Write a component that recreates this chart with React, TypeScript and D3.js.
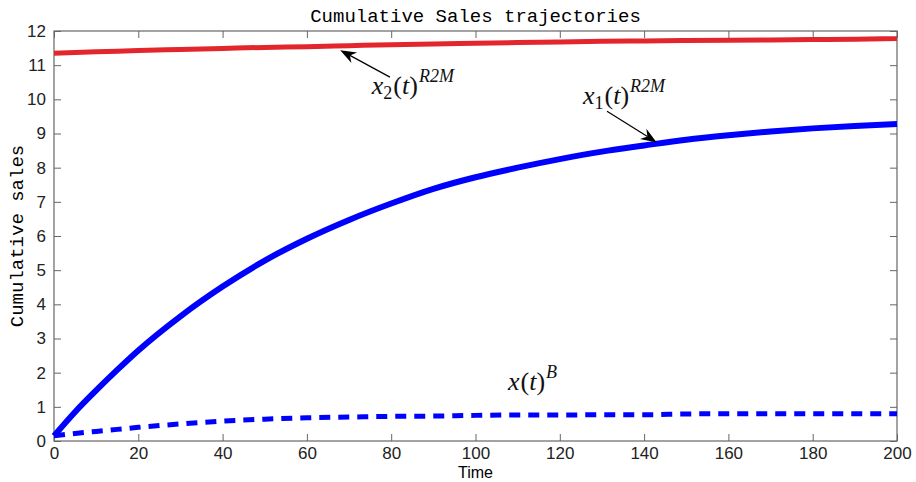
import React, { useRef, useEffect } from 'react';
import * as d3 from 'd3';

// time grid and the three trajectories
const times = [0, 5, 10, 15, 20, 30, 40, 50, 60, 70, 80, 90, 100, 110, 120, 130, 140, 150, 160, 170, 180, 190, 200];
const x1R2M = [0.15, 0.85, 1.48, 2.08, 2.65, 3.65, 4.52, 5.28, 5.92, 6.47, 6.95, 7.38, 7.72, 8.0, 8.25, 8.47, 8.65, 8.82, 8.95, 9.06, 9.15, 9.22, 9.28];
const x2R2M = [11.35, 11.37, 11.39, 11.41, 11.43, 11.46, 11.49, 11.52, 11.54, 11.57, 11.6, 11.62, 11.64, 11.66, 11.68, 11.7, 11.71, 11.72, 11.73, 11.74, 11.75, 11.76, 11.78];
const xB = [0.15, 0.22, 0.28, 0.34, 0.4, 0.5, 0.58, 0.64, 0.68, 0.7, 0.72, 0.73, 0.75, 0.76, 0.76, 0.77, 0.77, 0.79, 0.8, 0.8, 0.8, 0.8, 0.8];

const xTicks = [0, 20, 40, 60, 80, 100, 120, 140, 160, 180, 200];
const yTicks = [0, 1, 2, 3, 4, 5, 6, 7, 8, 9, 10, 11, 12];

const App = () => {
  const ref = useRef<SVGSVGElement>(null);

  useEffect(() => {
    const svg = d3.select(ref.current);
    const W = 916, H = 482;
    const margin = { top: 31, right: 19, bottom: 41, left: 54 };
    const width = W - margin.left - margin.right;
    const height = H - margin.top - margin.bottom;

    svg.selectAll('*').remove();

    const x = d3.scaleLinear().domain([0, 200]).range([0, width]);
    const y = d3.scaleLinear().domain([0, 12]).range([height, 0]);

    const g = svg.append('g').attr('transform', `translate(${margin.left},${margin.top})`);
    const axisColor = '#666';

    // box
    g.append('rect')
      .attr('width', width).attr('height', height)
      .attr('fill', 'none').attr('stroke', axisColor).attr('stroke-width', 1.2);

    const tickLen = 7;
    const styleAxis = (sel) => {
      sel.select('.domain').remove();
      sel.selectAll('line').attr('stroke', axisColor);
      sel.selectAll('text')
        .attr('fill', '#222')
        .style('font-family', '"Liberation Sans", Arial, sans-serif')
        .style('font-size', '17px');
    };

    g.append('g').attr('transform', `translate(0,${height})`)
      .call(d3.axisBottom(x).tickValues(xTicks).tickSizeInner(-tickLen).tickSizeOuter(0).tickPadding(6))
      .call(styleAxis);
    g.append('g')
      .call(d3.axisTop(x).tickValues(xTicks).tickSizeInner(-tickLen).tickSizeOuter(0).tickFormat(() => ''))
      .call(styleAxis);
    g.append('g')
      .call(d3.axisLeft(y).tickValues(yTicks).tickSizeInner(-tickLen).tickSizeOuter(0).tickPadding(8))
      .call(styleAxis);
    g.append('g').attr('transform', `translate(${width},0)`)
      .call(d3.axisRight(y).tickValues(yTicks).tickSizeInner(-tickLen).tickSizeOuter(0).tickFormat(() => ''))
      .call(styleAxis);

    const line = (vals: number[]) => d3.line<number>()
      .x((_, i) => x(times[i]))
      .y(d => y(d))
      .curve(d3.curveMonotoneX)(vals);

    g.append('path').attr('d', line(x2R2M))
      .attr('fill', 'none').attr('stroke', '#e3262b').attr('stroke-width', 5);
    g.append('path').attr('d', line(x1R2M))
      .attr('fill', 'none').attr('stroke', '#0000ff').attr('stroke-width', 6);
    g.append('path').attr('d', line(xB))
      .attr('fill', 'none').attr('stroke', '#0000ff').attr('stroke-width', 5)
      .attr('stroke-dasharray', '11,8');

    // arrows
    const arrow = (t0, v0, t1, v1) => {
      const xa = x(t0), ya = y(v0), xb = x(t1), yb = y(v1);
      const ang = Math.atan2(yb - ya, xb - xa);
      const L = 16, w = 6, notch = 11;
      const bx = xb - L * Math.cos(ang), by = yb - L * Math.sin(ang);
      const nx = xb - notch * Math.cos(ang), ny = yb - notch * Math.sin(ang);
      const px = -Math.sin(ang) * w, py = Math.cos(ang) * w;
      g.append('line')
        .attr('x1', xa).attr('y1', ya).attr('x2', nx).attr('y2', ny)
        .attr('stroke', '#000').attr('stroke-width', 1.2);
      g.append('polygon')
        .attr('points', `${xb},${yb} ${bx + px},${by + py} ${nx},${ny} ${bx - px},${by - py}`)
        .attr('fill', '#000');
    };
    arrow(79.7, 10.65, 67.9, 11.44);
    arrow(131.2, 9.65, 143, 8.74);

    // LaTeX-like labels
    const mathLabel = (t, v, sub, sup) => {
      const txt = g.append('text')
        .attr('x', x(t)).attr('y', y(v))
        .style('font-family', '"Liberation Serif", "DejaVu Serif", serif')
        .style('font-size', '26px')
        .attr('fill', '#111');
      txt.append('tspan').style('font-style', 'italic').text('x');
      if (sub) txt.append('tspan').attr('dy', 5).style('font-size', '18px').text(sub);
      txt.append('tspan').attr('dy', sub ? -5 : 0).attr('dx', 1).text('(');
      txt.append('tspan').style('font-style', 'italic').text('t');
      txt.append('tspan').text(')');
      txt.append('tspan').attr('dy', -12).attr('dx', 1).style('font-size', '18px').style('font-style', 'italic').text(sup);
    };
    mathLabel(75.4, 10.15, '2', 'R2M');
    mathLabel(125.5, 9.85, '1', 'R2M');
    mathLabel(107.7, 1.5, '', 'B');

    // title and axis labels
    svg.append('text')
      .attr('x', margin.left + width / 2).attr('y', 22)
      .attr('text-anchor', 'middle')
      .style('font-family', '"Liberation Mono", "Courier New", monospace')
      .style('font-size', '19px')
      .text('Cumulative Sales trajectories');

    svg.append('text')
      .attr('x', margin.left + width / 2).attr('y', 478)
      .attr('text-anchor', 'middle')
      .style('font-family', '"Liberation Sans", Arial, sans-serif')
      .style('font-size', '16px')
      .text('Time');

    svg.append('text')
      .attr('transform', `translate(23,${margin.top + height / 2}) rotate(-90)`)
      .attr('text-anchor', 'middle')
      .style('font-family', '"Liberation Mono", "Courier New", monospace')
      .style('font-size', '19px')
      .text('Cumulative sales');
  }, []);

  return (
    <svg ref={ref} width={916} height={482}
      style={{ position: 'absolute', left: 0, top: 0, background: '#fff' }} />
  );
};

export default App;
